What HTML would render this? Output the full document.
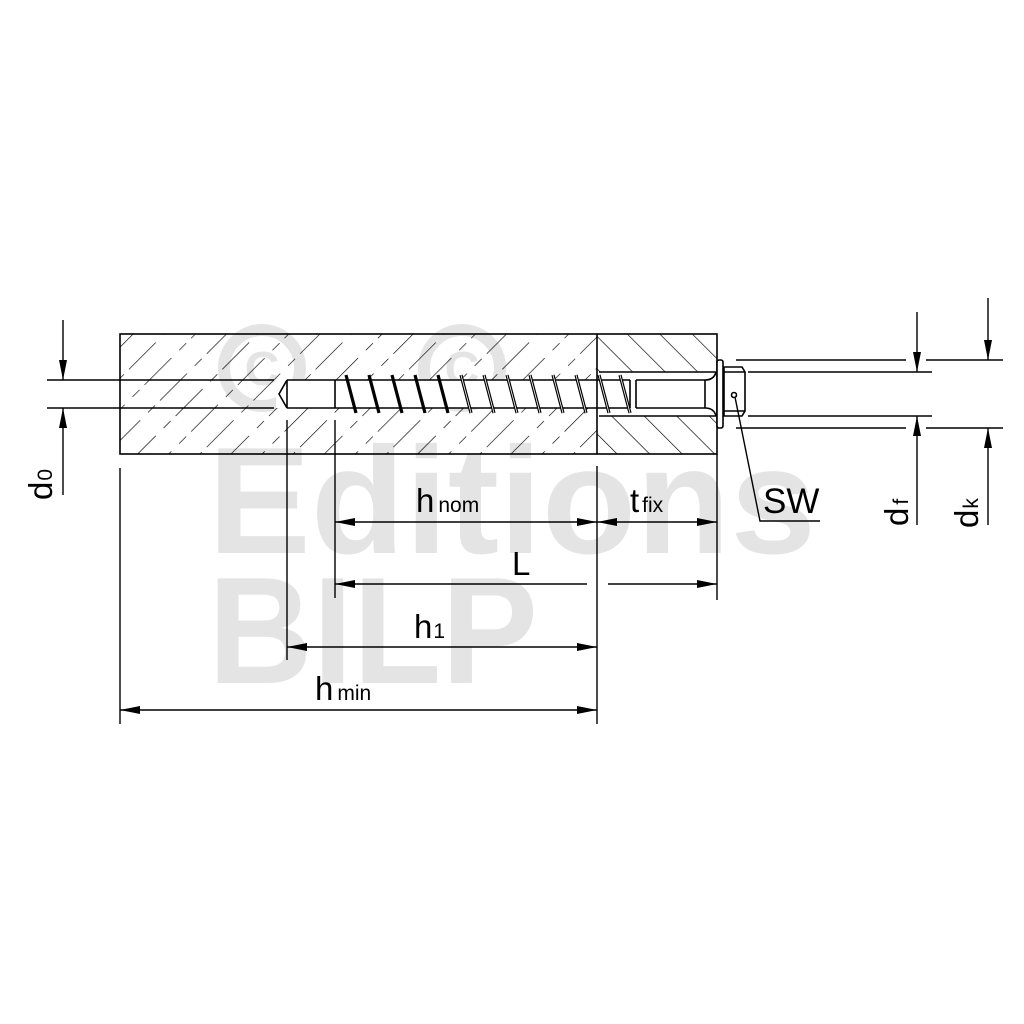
<!DOCTYPE html>
<html><head><meta charset="utf-8"><style>
html,body{margin:0;padding:0;background:#fff;}
svg{display:block;}
text{font-family:"Liberation Sans","DejaVu Sans",sans-serif;}
</style></head><body>
<svg width="1024" height="1024" viewBox="0 0 1024 1024" xmlns="http://www.w3.org/2000/svg">
<defs>
<pattern id="hl" patternUnits="userSpaceOnUse" width="22" height="66" patternTransform="rotate(45)">
<line x1="0" y1="0" x2="0" y2="66" stroke="#000" stroke-width="1.3" stroke-dasharray="38 7 10 11"/>
</pattern>
<pattern id="hr" patternUnits="userSpaceOnUse" width="23" height="23" patternTransform="rotate(-45)">
<line x1="0" y1="0" x2="0" y2="23" stroke="#000" stroke-width="1.3"/>
</pattern>
<marker id="a" viewBox="0 0 20 8" refX="20" refY="4" markerWidth="20" markerHeight="8" markerUnits="userSpaceOnUse" orient="auto-start-reverse"><path d="M0,0 L20,4 L0,8 z" fill="#000"/></marker>
</defs>

<g fill="#e4e4e4">
<circle cx="262" cy="368" r="38" fill="none" stroke="#e4e4e4" stroke-width="12"/>
<text x="262" y="385" font-size="48" font-weight="bold" text-anchor="middle">C</text>
<circle cx="462" cy="368" r="38" fill="none" stroke="#e4e4e4" stroke-width="12"/>
<text x="462" y="385" font-size="48" font-weight="bold" text-anchor="middle">C</text>
<text x="208" y="553" font-size="152" font-weight="bold" textLength="608" lengthAdjust="spacingAndGlyphs">Editions</text>
<text x="208" y="683" font-size="152" font-weight="bold" textLength="330" lengthAdjust="spacingAndGlyphs">BILP</text>
</g>

<rect x="120" y="334" width="477" height="120" fill="url(#hl)"/>
<rect x="597" y="334" width="120" height="120" fill="url(#hr)"/>
<rect x="276" y="380" width="441" height="28" fill="#fff"/>
<rect x="599" y="372" width="117" height="44" fill="#fff"/>
<g stroke="#000" stroke-width="1.6" fill="none">
<rect x="120" y="334" width="597" height="120"/>
<line x1="597" y1="334" x2="597" y2="454"/>
<line x1="599" y1="372" x2="716" y2="372"/>
<line x1="599" y1="416" x2="716" y2="416"/>
<line x1="47" y1="380" x2="274" y2="380"/>
<line x1="47" y1="408" x2="274" y2="408"/>
<line x1="287" y1="380" x2="335" y2="380"/>
<line x1="287" y1="408" x2="335" y2="408"/>
<line x1="287" y1="380" x2="287" y2="408"/>
<path d="M287,380 L279,394 L287,408"/>
<line x1="335" y1="380" x2="630" y2="380"/>
<line x1="335" y1="408" x2="630" y2="408"/>
<line x1="335" y1="380" x2="335" y2="408"/>
<line x1="630" y1="380" x2="630" y2="408"/>
<line x1="636" y1="380" x2="636" y2="408"/>
<path d="M636,380 L705,380 Q714,380 716,372 M636,408 L705,408 Q714,408 716,416"/>
<line x1="705" y1="380" x2="705" y2="408"/>
</g>
<g stroke="#000" stroke-width="3.2" fill="none">
<path d="M346,375 l10,38 M369,375 l10,38 M392,375 l10,38 M415,375 l10,38 M438,375 l10,38 M461,375 l10,38 M484,375 l10,38 M507,375 l10,38 M530,375 l10,38 M553,375 l10,38 M576,375 l10,38 M599,375 l10,38 M620,375 l10,38"/>
</g>
<g stroke="#fff" stroke-width="0.8" fill="none">
<path d="M461,375 l10,38 M484,375 l10,38 M507,375 l10,38 M530,375 l10,38 M553,375 l10,38 M576,375 l10,38 M599,375 l10,38 M620,375 l10,38"/>
</g>
<g stroke="#000" stroke-width="1.6" fill="#fff">
<rect x="717" y="360" width="6" height="68" rx="2"/>
<path d="M724,367 L742,367 L745,372 L745,411 L742,416 L724,416 z"/>
<line x1="724" y1="372" x2="745" y2="372"/>
<line x1="724" y1="411" x2="745" y2="411"/>
<circle cx="734" cy="395" r="2.5" fill="none"/>
</g>
<g stroke="#000" stroke-width="1.4" fill="none">
<line x1="736" y1="360" x2="906" y2="360"/>
<line x1="926" y1="360" x2="1003" y2="360"/>
<line x1="736" y1="428" x2="906" y2="428"/>
<line x1="926" y1="428" x2="1003" y2="428"/>
<line x1="748" y1="372" x2="932" y2="372"/>
<line x1="748" y1="416" x2="932" y2="416"/>
<path d="M735,397 L760,521 L820,521"/>
<line x1="917" y1="312" x2="917" y2="372" marker-end="url(#a)"/>
<line x1="917" y1="525" x2="917" y2="416" marker-end="url(#a)"/>
<line x1="988" y1="298" x2="988" y2="360" marker-end="url(#a)"/>
<line x1="988" y1="525" x2="988" y2="428" marker-end="url(#a)"/>
<line x1="63" y1="320" x2="63" y2="380" marker-end="url(#a)"/>
<line x1="63" y1="495" x2="63" y2="408" marker-end="url(#a)"/>
<line x1="120" y1="468" x2="120" y2="724"/>
<line x1="287" y1="420" x2="287" y2="660"/>
<line x1="335" y1="420" x2="335" y2="598"/>
<line x1="597" y1="466" x2="597" y2="724"/>
<line x1="717" y1="454" x2="717" y2="600"/>
<line x1="335" y1="522" x2="597" y2="522" marker-start="url(#a)" marker-end="url(#a)"/>
<line x1="597" y1="522" x2="717" y2="522" marker-start="url(#a)" marker-end="url(#a)"/>
<line x1="335" y1="584" x2="587" y2="584" marker-start="url(#a)"/>
<line x1="608" y1="584" x2="717" y2="584" marker-end="url(#a)"/>
<line x1="287" y1="647" x2="597" y2="647" marker-start="url(#a)" marker-end="url(#a)"/>
<line x1="120" y1="710" x2="597" y2="710" marker-start="url(#a)" marker-end="url(#a)"/>
</g>
<g fill="#000">
<text x="416" y="512" font-size="33">h<tspan font-size="21" dx="4">nom</tspan></text>
<text x="630" y="512" font-size="33">t<tspan font-size="21" dx="3">fix</tspan></text>
<text x="512" y="575" font-size="33">L</text>
<text x="414" y="638" font-size="33">h<tspan font-size="21" dx="1">1</tspan></text>
<text x="315" y="700" font-size="33">h<tspan font-size="21" dx="4">min</tspan></text>
<text x="763" y="513" font-size="35">SW</text>
<text transform="translate(52,500) rotate(-90)" font-size="33">d<tspan font-size="21" dx="1">0</tspan></text>
<text transform="translate(908,526) rotate(-90)" font-size="33">d<tspan font-size="21" dx="3">f</tspan></text>
<text transform="translate(978,528) rotate(-90)" font-size="33">d<tspan font-size="21" dx="1">k</tspan></text>
</g>
</svg>
</body></html>
